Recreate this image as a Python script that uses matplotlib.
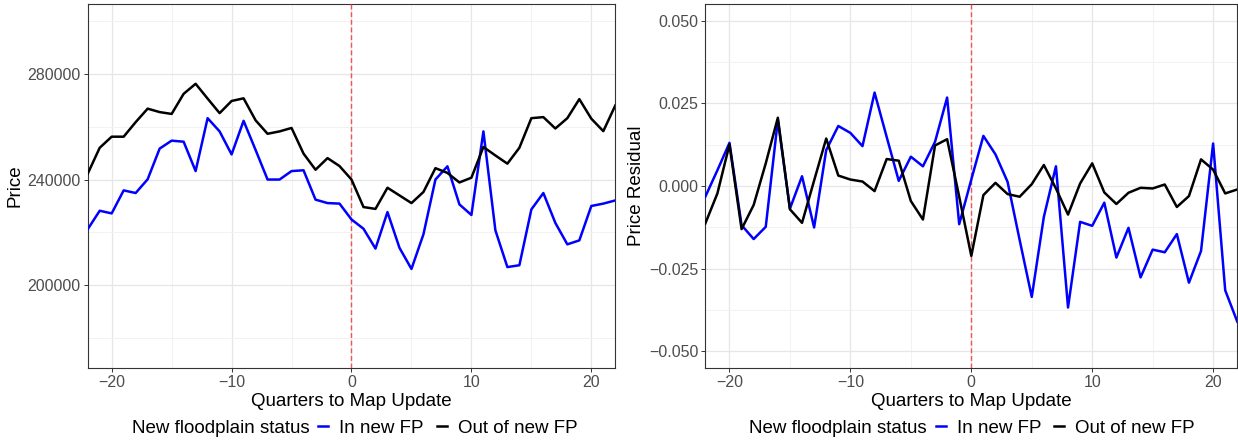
import numpy as np
import matplotlib
matplotlib.use("Agg")
import matplotlib.pyplot as plt
from matplotlib.lines import Line2D
from matplotlib.ticker import MultipleLocator

# quarters relative to the map update
quarters = list(range(-22, 23))

# mean sale price
price_in = [221200, 228200, 227200, 235900, 234900, 240100, 251700, 254700, 254300,
            243200, 263200, 258200, 249500, 262200, 251200, 240000, 240000, 243200,
            243500, 232400, 231100, 230900, 224900,
            221400, 213900, 227700, 214200, 206200, 219300, 240000, 245000, 230600,
            226600, 258200, 220800, 206900, 207600, 228700, 234900, 223600, 215500,
            217000, 230000, 230900, 232100]
price_out = [242200, 252000, 256200, 256200, 261700, 266800, 265500, 264800, 272400,
             276200, 270600, 265100, 269700, 270700, 262400, 257300, 258200, 259500,
             249800, 243700, 248100, 245100, 240000,
             229600, 228900, 236900, 234000, 231100, 235300, 244300, 242500, 238900,
             240700, 252300, 249100, 246000, 252000, 263200, 263600, 259300, 263200,
             270400, 263000, 258300, 268000]

# price residuals
resid_in = [-0.0032, 0.0048, 0.0131, -0.0118, -0.0160, -0.0123, 0.0200, -0.0068, 0.0030,
            -0.0125, 0.0109, 0.0182, 0.0161, 0.0121, 0.0283, 0.0149, 0.0016, 0.0089,
            0.0060, 0.0134, 0.0268, -0.0115, 0.0020,
            0.0152, 0.0096, 0.0013, -0.0163, -0.0335, -0.0093, 0.0060, -0.0367, -0.0108,
            -0.0120, -0.0050, -0.0216, -0.0126, -0.0276, -0.0192, -0.0200, -0.0145,
            -0.0292, -0.0196, 0.0129, -0.0315, -0.0410]
resid_out = [-0.0113, -0.0022, 0.0126, -0.0130, -0.0057, 0.0069, 0.0207, -0.0070, -0.0111,
             0.0017, 0.0144, 0.0032, 0.0020, 0.0014, -0.0015, 0.0082, 0.0077, -0.0045,
             -0.0101, 0.0123, 0.0142, -0.0032, -0.0211,
             -0.0027, 0.0010, -0.0024, -0.0032, 0.0006, 0.0064, -0.0007, -0.0086, 0.0008,
             0.0069, -0.0019, -0.0054, -0.0020, -0.0005, -0.0007, 0.0005, -0.0063,
             -0.0030, 0.0081, 0.0050, -0.0022, -0.0010]

plt.rcParams['font.family'] = ['Liberation Sans', 'DejaVu Sans']

fig = plt.figure(figsize=(12.38, 4.44), dpi=100)
ax1 = fig.add_axes([87.7/1238, 1-368/444, (615.3-87.7)/1238, (368-4.3)/444])
ax2 = fig.add_axes([705.3/1238, 1-368/444, (1237.3-705.3)/1238, (368-4.3)/444])

def style(ax, ylab):
    ax.set_xlim(-22, 22)
    ax.xaxis.set_major_locator(MultipleLocator(10))
    ax.xaxis.set_minor_locator(MultipleLocator(5))
    ax.grid(which='major', color='#e6e6e6', lw=0.9, zorder=0)
    ax.grid(which='minor', color='#f2f2f2', lw=0.7, zorder=0)
    ax.set_axisbelow(True)
    ax.tick_params(which='major', length=3, width=0.7, color='#333333',
                   labelsize=11.5, labelcolor='#4d4d4d', pad=2)
    ax.tick_params(which='minor', length=0)
    for s in ax.spines.values():
        s.set_color('#333333')
        s.set_linewidth(0.8)
    ax.axvline(0, color='#f05456', lw=1.0, ls=(0, (3.5, 2)), zorder=3)
    ax.set_xlabel('Quarters to Map Update', fontsize=13.5, labelpad=2)
    ax.set_ylabel(ylab, fontsize=13.5, labelpad=3)

ax1.plot(quarters, price_in, color='blue', lw=1.8, zorder=4)
ax1.plot(quarters, price_out, color='black', lw=1.8, zorder=4)
ax1.set_ylim(168750, 306250)
ax1.set_yticks([200000, 240000, 280000])
ax1.yaxis.set_minor_locator(MultipleLocator(20000))
ax1.set_yticklabels(['200000', '240000', '280000'])
style(ax1, 'Price')

ax2.plot(quarters, resid_in, color='blue', lw=1.8, zorder=4)
ax2.plot(quarters, resid_out, color='black', lw=1.8, zorder=4)
ax2.set_ylim(-0.055, 0.055)
ax2.set_yticks([-0.05, -0.025, 0, 0.025, 0.05])
ax2.yaxis.set_minor_locator(MultipleLocator(0.0125))
ax2.set_yticklabels(['\u22120.050', '\u22120.025', '0.000', '0.025', '0.050'])
style(ax2, 'Price Residual')

for ax in (ax1, ax2):
    ax.set_xticks([-20, -10, 0, 10, 20])
    ax.set_xticklabels(['\u221220', '\u221210', '0', '10', '20'])

handles = [Line2D([], [], color='blue', lw=1.8), Line2D([], [], color='black', lw=1.8)]
labels = ['In new FP', 'Out of new FP']
for tx, lx in [(131.7, 318.3), (749.3, 935.9)]:
    fig.text(tx/1238, 1-428/444, 'New floodplain status', fontsize=13.5,
             ha='left', va='center')
    fig.legend(handles, labels, loc='center left', bbox_to_anchor=(lx/1238, 1-428/444),
               ncol=2, frameon=False, fontsize=13.5, handlelength=0.53,
               handletextpad=0.59, columnspacing=0.69, borderpad=0, borderaxespad=0)

fig.savefig('out.png', dpi=100)
